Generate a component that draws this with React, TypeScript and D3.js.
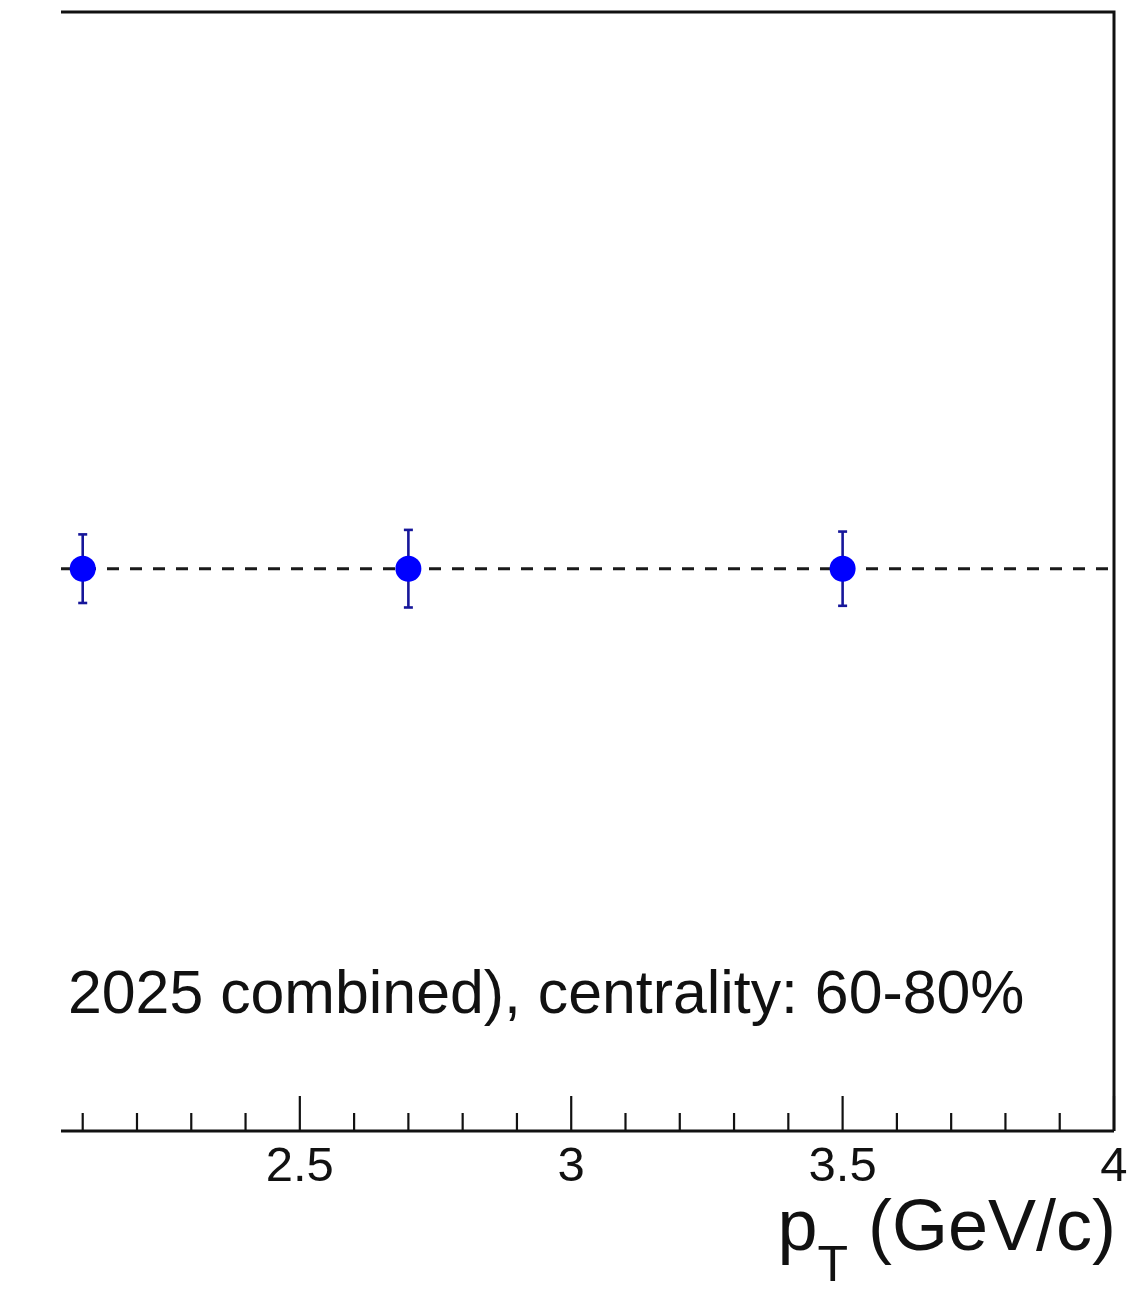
import React from "react";
import * as d3 from "d3";

// Measured points: transverse momentum and ratio with statistical errors
const ptValues: number[] = [2.1, 2.7, 3.5];
const ratioValues: number[] = [1.0, 1.0, 1.0];
const ratioErrors: number[] = [0.061, 0.069, 0.066];

// Axis ticks
const majorTicks: number[] = [2.5, 3, 3.5, 4];
const majorTickLabels: string[] = ["2.5", "3", "3.5", "4"];
const minorTicks: number[] = [2.1, 2.2, 2.3, 2.4, 2.6, 2.7, 2.8, 2.9, 3.1, 3.2, 3.3, 3.4, 3.6, 3.7, 3.8, 3.9];

const referenceLevel = 1.0;
const annotation = "2025 combined), centrality: 60-80%";

const W = 1147;
const H = 1289;

export default function App() {
  const frameLeft = 61;
  const frameRight = 1114;
  const frameTop = 12;
  const frameBottom = 1131;

  const x = d3.scaleLinear().domain([2.06, 4.0]).range([frameLeft, frameRight]);
  const y = d3.scaleLinear().domain([0, 1.99]).range([frameBottom, frameTop]);

  const font = "'Liberation Sans', Arial, Helvetica, sans-serif";
  const markerColor = "#0000ff";
  const errColor = "#16169a";

  return (
    <svg
      width={W}
      height={H}
      style={{ position: "absolute", left: 0, top: 0, background: "#fff" }}
      fontFamily={font}
    >
      {/* frame: top and right edges */}
      <path
        d={`M${frameLeft},${frameTop} L${frameRight},${frameTop} L${frameRight},${frameBottom}`}
        fill="none"
        stroke="#111"
        strokeWidth={3}
      />
      {/* x axis line */}
      <line x1={frameLeft} x2={frameRight} y1={frameBottom} y2={frameBottom} stroke="#111" strokeWidth={3} />

      {/* ticks */}
      {minorTicks.map((t) => (
        <line key={"m" + t} x1={x(t)} x2={x(t)} y1={frameBottom} y2={frameBottom - 18} stroke="#111" strokeWidth={2.2} />
      ))}
      {majorTicks.map((t, i) => (
        <g key={"M" + t}>
          <line x1={x(t)} x2={x(t)} y1={frameBottom} y2={frameBottom - 35} stroke="#111" strokeWidth={2.2} />
          <text x={x(t)} y={1181} fontSize={49} textAnchor="middle" fill="#111">
            {majorTickLabels[i]}
          </text>
        </g>
      ))}

      {/* reference line */}
      <line
        x1={frameLeft}
        x2={frameRight}
        y1={y(referenceLevel)}
        y2={y(referenceLevel)}
        stroke="#1a1a1a"
        strokeWidth={3}
        strokeDasharray="12,11"
      />

      {/* data points with error bars */}
      {ptValues.map((pt, i) => {
        const cx = x(pt);
        const cy = y(ratioValues[i]);
        const y0 = y(ratioValues[i] - ratioErrors[i]);
        const y1 = y(ratioValues[i] + ratioErrors[i]);
        return (
          <g key={"p" + i}>
            <line x1={cx} x2={cx} y1={y0} y2={y1} stroke={errColor} strokeWidth={2.6} />
            <line x1={cx - 4.5} x2={cx + 4.5} y1={y0} y2={y0} stroke={errColor} strokeWidth={2.6} />
            <line x1={cx - 4.5} x2={cx + 4.5} y1={y1} y2={y1} stroke={errColor} strokeWidth={2.6} />
            <circle cx={cx} cy={cy} r={13} fill={markerColor} />
          </g>
        );
      })}

      {/* annotation */}
      <text x={68} y={1013} fontSize={60.8} fill="#111">
        {annotation}
      </text>

      {/* axis title */}
      <text x={1116} y={1250} fontSize={72} textAnchor="end" fill="#111">
        p
        <tspan dy={31} fontSize={50}>T</tspan>
        <tspan dy={-31}> (GeV/c)</tspan>
      </text>
    </svg>
  );
}
